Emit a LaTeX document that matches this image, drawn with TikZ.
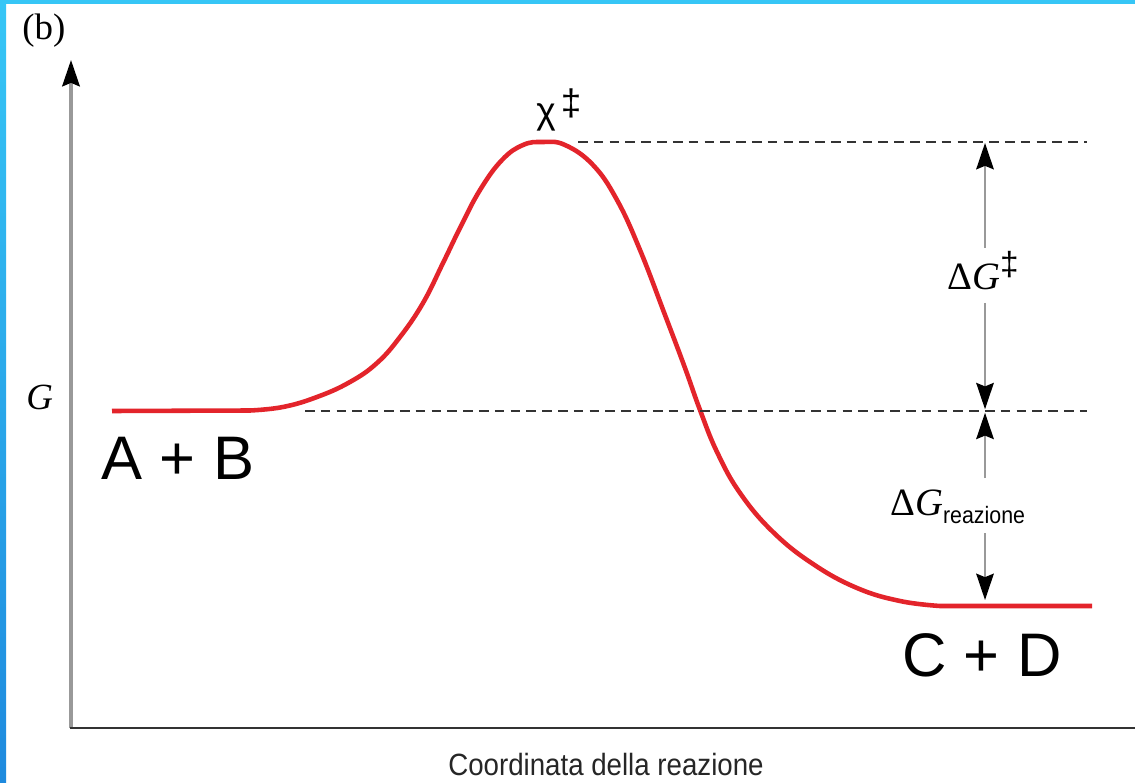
\documentclass[tikz,border=0pt]{standalone}
\usepackage{fontspec}
\setmainfont{Liberation Serif}
\setsansfont{Liberation Sans}
\newfontfamily\narrowsf[FakeStretch=0.9]{Liberation Sans}
\usetikzlibrary{arrows.meta}
\definecolor{curvered}{HTML}{E3242B}
\definecolor{framecyan}{HTML}{36C6F6}
\definecolor{frameblue}{HTML}{1E8ADE}
\definecolor{shaftgray}{HTML}{999999}

\begin{document}
\begin{tikzpicture}[x=0.02cm,y=-0.02cm,
  tip/.style={-{Stealth[length=15pt,width=10pt,inset=2pt,color=black]}},
  dimline/.style={draw=shaftgray,line width=1.2pt,tip},
  guide/.style={draw=black!80,line width=0.8pt,dash pattern=on 5.5pt off 3.5pt},
  curve/.style={draw=curvered,line width=2.6pt,line join=round},
  serif/.style={font=\fontsize{22}{26}\selectfont,inner sep=0},
  species/.style={font=\sffamily\fontsize{35}{40}\selectfont,inner sep=0}]
  \useasboundingbox (0,0) rectangle (1135,783);
  \fill[white] (0,0) rectangle (1135,783);
  % frame strips
  \shade[top color=framecyan,bottom color=frameblue] (0,0) rectangle (6,783);
  \fill[framecyan] (0,0) rectangle (1135,4);

  % axes
  \coordinate (origin) at (71,728);
  \coordinate (ytop) at (71,60);
  \coordinate (xend) at (1135,728);
  \draw[draw=shaftgray,line width=1.8pt,tip] (origin) -- (ytop);
  \draw[black!80,line width=1.3pt] (70,728) -- (xend);

  \node[anchor=base west,inner sep=0,font=\fontsize{21}{25}\selectfont] (panel) at (22,40) {(b)};
  \node[anchor=base west,serif,font=\fontsize{21}{25}\selectfont] (Glabel) at (26,410) {\textit{G}};
  \node[anchor=base,inner sep=0,font=\narrowsf\fontsize{17.5}{20}\selectfont,text=black!85] (xlabel) at (606,775) {Coordinata della reazione};

  % energy profile
  \draw[curve] (112,411) -- (250,410.5) -- plot[smooth,tension=0.7] coordinates {
    (250,410.5) (283,407) (317,397) (350,382) (377,363) (400,337) (423,303)
    (443,263) (460,228) (480,190) (502,160) (523,145) (543,142) (565,145)
    (593,165) (617,200) (640,250) (665,315) (685,368) (700,410) (717,452)
    (740,493) (773,532) (813,564) (857,588) (900,601) (940,606)} -- (1092,606);

  \node[anchor=base west,inner sep=0,font=\sffamily\fontsize{21}{25}\selectfont] (ts) at (536,124)
    {χ\hspace{3pt}\raisebox{5pt}{‡}};
  \node[species] (AB) at (178,458) {A + B};
  \node[species] (CD) at (982,655) {C + D};

  % guide lines
  \coordinate (tsL) at (578,142);
  \coordinate (tsR) at (1087,142);
  \coordinate (abL) at (305,411);
  \coordinate (abR) at (1087,411);
  \draw[guide] (tsL) -- (tsR);
  \draw[guide] (abL) -- (abR);

  % energy differences
  \coordinate (peak) at (985,143);
  \coordinate (react) at (985,411);
  \coordinate (prod) at (985,600);
  \coordinate (a1) at (985,248);
  \coordinate (a2) at (985,303);
  \coordinate (a3) at (985,478);
  \coordinate (a4) at (985,533);
  \draw[dimline] (a1) -- (peak);
  \draw[dimline,shorten >=1pt] (a2) -- (react);
  \draw[dimline,shorten >=1pt] (a3) -- (react);
  \draw[dimline] (a4) -- (prod);
  \node[anchor=base west,serif] (dGact) at (947,290)
    {Δ\textit{G}\raisebox{8pt}{\sffamily\fontsize{19}{22}\selectfont ‡}};
  \node[anchor=base west,serif] (dGrxn) at (890,515)
    {Δ\textit{G}\raisebox{-4.8pt}{\narrowsf\fontsize{13.5}{16}\selectfont reazione}};
\end{tikzpicture}
\end{document}
